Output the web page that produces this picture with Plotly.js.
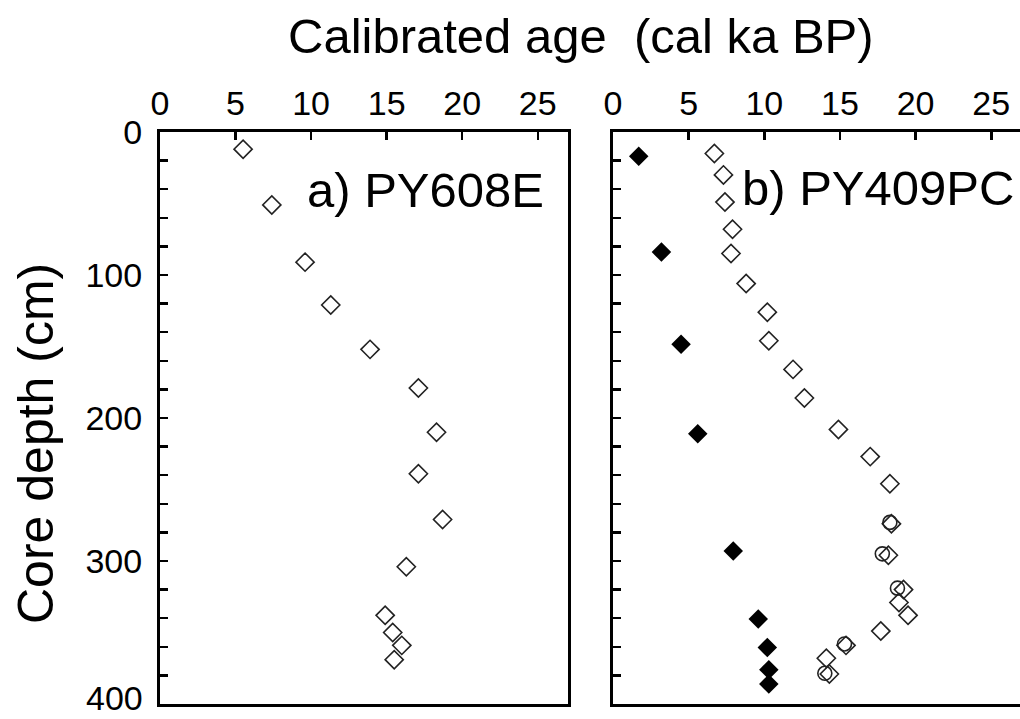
<!DOCTYPE html>
<html>
<head>
<meta charset="utf-8">
<script src="https://cdn.plot.ly/plotly-3.0.1.min.js"></script>
<style>html,body{margin:0;padding:0;background:#fff;}#chart{width:1020px;height:719px;}</style>
</head>
<body>
<div id="chart"></div>
<script>
// Panel a) PY608E : open diamonds
const ageA   = [5.5, 7.4, 9.6, 11.3, 13.9, 17.1, 18.3, 17.1, 18.7, 16.3, 14.9, 15.4, 16.0, 15.5];
const depthA = [12, 51, 91, 121, 152, 179, 210, 239, 271, 304, 338, 350, 359, 369];

// Panel b) PY409PC : open diamonds
const ageBopen   = [6.7, 7.3, 7.4, 7.9, 7.8, 8.8, 10.2, 10.3, 11.9, 12.65, 14.9, 17.0, 18.3, 18.4, 18.2, 19.2, 18.9, 19.5, 17.7, 15.4, 14.1, 14.3];
const depthBopen = [15, 30, 49, 68, 85, 106, 126, 146, 166, 186, 208, 227, 246, 274, 296, 320, 329, 338, 349, 359, 368, 379];

// Panel b) open circles
const ageBcirc   = [18.3, 17.8, 18.8, 15.3, 14.0];
const depthBcirc = [273, 295, 319, 358, 378.5];

// Panel b) filled diamonds
const ageBfill   = [1.7, 3.2, 4.5, 5.6, 7.95, 9.6, 10.2, 10.3, 10.3];
const depthBfill = [17, 84, 148.5, 211, 293, 340.5, 360.5, 376, 386];

// Axis ticks
const xTicks = [0, 5, 10, 15, 20, 25];
const yTickVals = [0, 20, 40, 60, 80, 100, 120, 140, 160, 180, 200, 220, 240, 260, 280, 300, 320, 340, 360, 380, 400];
const yMaxLabel = '400';
// the bottom label (400) is drawn as an annotation so it stays inside the page
const yTickText = yTickVals.map(v => (v % 100 === 0 && v !== 400 ? String(v) : ''));

const FONT = 'Liberation Sans, Arial, Helvetica, sans-serif';

const traces = [
  {x: ageA, y: depthA, xaxis: 'x', yaxis: 'y', type: 'scatter', mode: 'markers',
   marker: {symbol: 'diamond-open', size: 14, color: '#222', line: {width: 1.6, color: '#222'}}},
  {x: ageBopen, y: depthBopen, xaxis: 'x2', yaxis: 'y2', type: 'scatter', mode: 'markers',
   marker: {symbol: 'diamond-open', size: 14, color: '#222', line: {width: 1.6, color: '#222'}}},
  {x: ageBcirc, y: depthBcirc, xaxis: 'x2', yaxis: 'y2', type: 'scatter', mode: 'markers',
   marker: {symbol: 'circle-open', size: 14, color: '#222', line: {width: 1.6, color: '#222'}}},
  {x: ageBfill, y: depthBfill, xaxis: 'x2', yaxis: 'y2', type: 'scatter', mode: 'markers',
   marker: {symbol: 'diamond', size: 15, color: '#000', line: {width: 0}}}
];

const xCommon = {
  side: 'top', tickvals: xTicks, ticks: 'inside', ticklen: 8, tickwidth: 2.5, tickcolor: '#000',
  showline: true, linewidth: 3, linecolor: '#000', mirror: true, showgrid: false, zeroline: false,
  tickfont: {family: FONT, size: 34, color: '#000'}, fixedrange: true, ticklabeloverflow: 'allow'
};
const yCommon = {
  autorange: false, range: [400, 0], tickvals: yTickVals, ticktext: yTickText,
  ticks: 'inside', ticklen: 8, tickwidth: 2.5, tickcolor: '#000',
  showline: true, linewidth: 3, linecolor: '#000', showgrid: false, zeroline: false,
  tickfont: {family: FONT, size: 34, color: '#000'}, domain: [15/719, 587/719], fixedrange: true,
  ticklabeloverflow: 'allow', ticklabelstandoff: 8
};

const layout = {
  width: 1020, height: 719,
  margin: {l: 0, r: 0, t: 0, b: 0, pad: 0},
  paper_bgcolor: '#fff', plot_bgcolor: '#fff',
  showlegend: false,
  font: {family: FONT, color: '#000'},
  xaxis: Object.assign({}, xCommon, {domain: [160/1020, 568/1020], range: [0, 27], anchor: 'y'}),
  yaxis: Object.assign({}, yCommon, {anchor: 'x', mirror: true}),
  xaxis2: Object.assign({}, xCommon, {domain: [613/1020, 1], range: [0, 26.9], anchor: 'y2'}),
  yaxis2: Object.assign({}, yCommon, {anchor: 'x2', mirror: false, showticklabels: false}),
  annotations: [
    {text: 'Calibrated age\u00a0\u00a0(cal ka BP)', xref: 'paper', yref: 'paper',
     x: 581/1020, y: 1 - 36/719, xanchor: 'center', yanchor: 'middle', showarrow: false,
     font: {family: FONT, size: 49, color: '#000'}},
    {text: 'Core depth (cm)', xref: 'paper', yref: 'paper', textangle: -90,
     x: 36/1020, y: 1 - 444/719, xanchor: 'center', yanchor: 'middle', showarrow: false,
     font: {family: FONT, size: 50, color: '#000'}},
    {text: 'a) PY608E', xref: 'paper', yref: 'paper',
     x: 425/1020, y: 1 - 190/719, xanchor: 'center', yanchor: 'middle', showarrow: false,
     font: {family: FONT, size: 49, color: '#000'}},
    {text: 'b) PY409PC', xref: 'paper', yref: 'paper',
     x: 878/1020, y: 1 - 188/719, xanchor: 'center', yanchor: 'middle', showarrow: false,
     font: {family: FONT, size: 49, color: '#000'}},
    {text: yMaxLabel, xref: 'paper', yref: 'paper',
     x: 145/1020, y: 0, xanchor: 'right', yanchor: 'bottom', showarrow: false,
     font: {family: FONT, size: 34, color: '#000'}}
  ]
};

Plotly.newPlot('chart', traces, layout, {displayModeBar: false, staticPlot: true});
</script>
</body>
</html>
